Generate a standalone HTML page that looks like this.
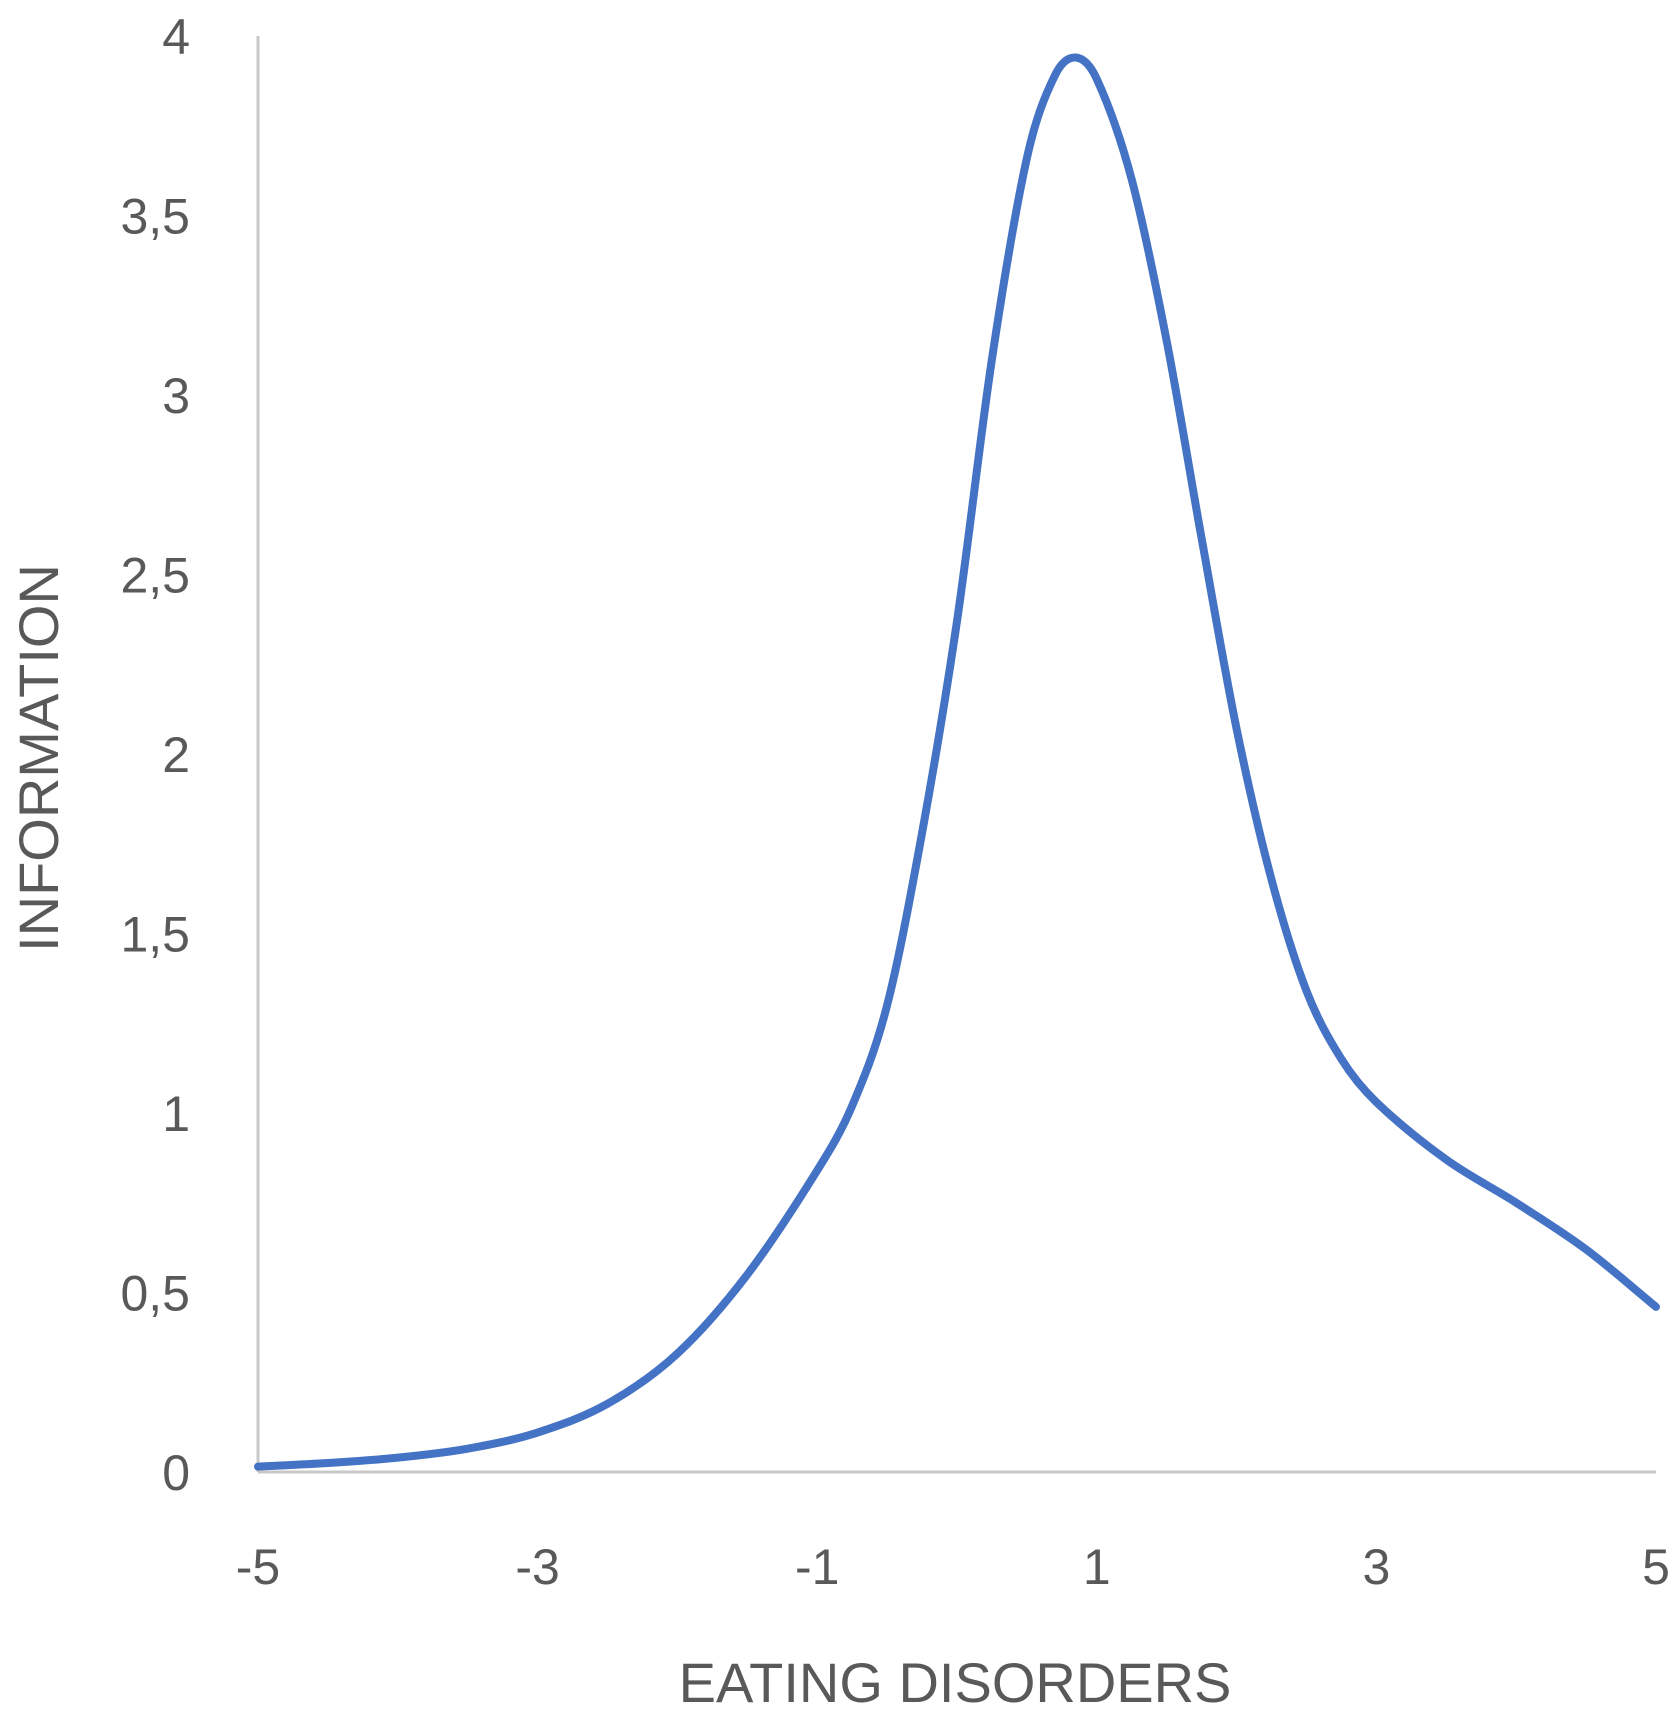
<!DOCTYPE html>
<html><head><meta charset="utf-8"><style>
body{margin:0;background:#fff;}
svg{display:block;font-family:"Liberation Sans",sans-serif;}
</style></head><body>
<svg id="chart" width="1675" height="1719" viewBox="0 0 1675 1719"></svg>
<script>
const xTicks=[-5,-3,-1,1,3,5];
const yTicks=[0,0.5,1,1.5,2,2.5,3,3.5,4];
const yTickLabels=["0","0,5","1","1,5","2","2,5","3","3,5","4"];
const thetaValues=[-5,-4.5,-4,-3.5,-3,-2.5,-2,-1.5,-1,-0.75,-0.5,-0.25,0,0.25,0.5,0.7,0.85,1,1.25,1.5,1.75,2,2.25,2.5,2.75,3,3.5,4,4.5,5];
const infoValues=[0.015,0.025,0.04,0.065,0.11,0.19,0.33,0.55,0.84,1.02,1.3,1.78,2.37,3.1,3.66,3.89,3.94,3.88,3.6,3.15,2.6,2.07,1.65,1.34,1.15,1.03,0.87,0.75,0.62,0.46];
const NS="http://www.w3.org/2000/svg";
const svg=document.getElementById('chart');
const X0=258,X1=1656,Y0=1472,Y4=36;
const sx=v=>X0+(v+5)/10*(X1-X0);
const sy=v=>Y0-v/4*(Y0-Y4);
function mk(t,a){const e=document.createElementNS(NS,t);for(const k in a)e.setAttribute(k,a[k]);svg.appendChild(e);return e;}
let e=mk('line',{x1:X0,y1:Y4,x2:X0,y2:Y0,stroke:'#c8c8c8','stroke-width':3});


e=mk('line',{x1:X0,y1:Y0,x2:X1,y2:Y0,stroke:'#c8c8c8','stroke-width':3});


yTicks.forEach((v,i)=>{const t=mk('text',{x:190,y:sy(v)+18,'text-anchor':'end','font-size':50,fill:'#595959'});t.textContent=yTickLabels[i];

});
xTicks.forEach(v=>{const t=mk('text',{x:sx(v),y:1584,'text-anchor':'middle','font-size':50,fill:'#595959'});t.textContent=String(v);

});
let t=mk('text',{x:955,y:1702,'text-anchor':'middle','font-size':56,fill:'#595959'});t.textContent='EATING DISORDERS';


t=mk('text',{x:0,y:0,'text-anchor':'middle','font-size':56,fill:'#595959',transform:'translate(58,758) rotate(-90)'});t.textContent='INFORMATION';


const n=thetaValues.length;
const m=thetaValues.map((x,i)=>{const a=Math.max(0,i-1),b=Math.min(n-1,i+1);return (infoValues[b]-infoValues[a])/(thetaValues[b]-thetaValues[a]);});
let d='M'+sx(thetaValues[0])+','+sy(infoValues[0]);
for(let i=0;i<n-1;i++){const h=thetaValues[i+1]-thetaValues[i];
const c1x=thetaValues[i]+h/3,c1y=infoValues[i]+m[i]*h/3;
const c2x=thetaValues[i+1]-h/3,c2y=infoValues[i+1]-m[i+1]*h/3;
d+=' C'+sx(c1x)+','+sy(c1y)+' '+sx(c2x)+','+sy(c2y)+' '+sx(thetaValues[i+1])+','+sy(infoValues[i+1]);}
const line=mk('path',{d:d,fill:'none',stroke:'#4472C4','stroke-width':8,'stroke-linecap':'round','stroke-linejoin':'round'});


</script>
</body></html>
